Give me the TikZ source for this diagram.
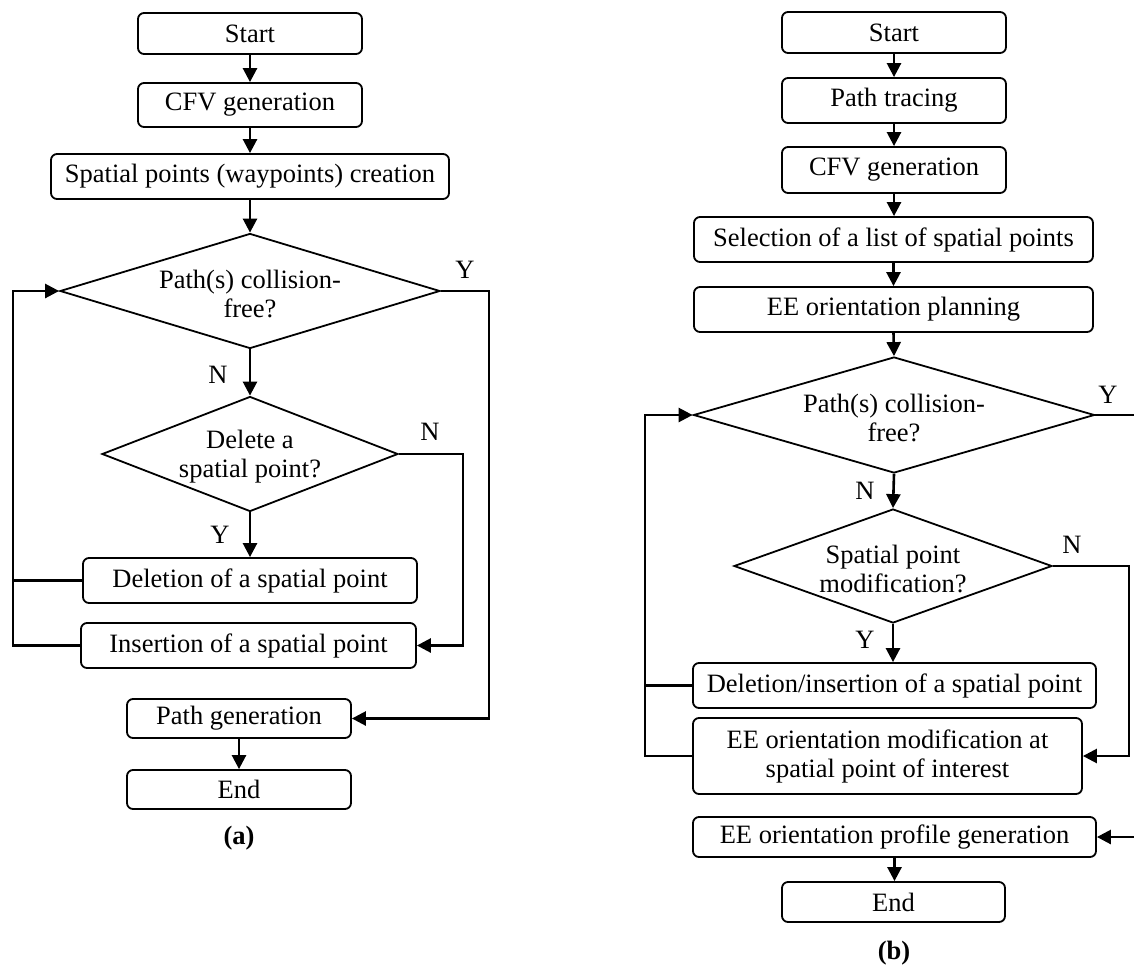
\documentclass[tikz,border=0pt]{standalone}
\usepackage{fontspec}
\setmainfont{Liberation Serif}
\usetikzlibrary{shapes.geometric,arrows.meta}
\begin{document}
\begin{tikzpicture}[x=1pt,y=-1pt,
 font=\fontsize{26.5}{29}\selectfont,
 box/.style={draw, rounded corners=6pt, line width=1.8pt, inner sep=0pt, align=center},
 dia/.style={draw, diamond, line width=1.8pt, inner sep=0pt},
 dtext/.style={inner sep=0pt, align=center},
 lbl/.style={inner sep=0pt},
 captext/.style={inner sep=0pt, font=\fontsize{26.5}{29}\selectfont\bfseries},
 conn/.style={line width=2.6pt},
 arr/.style={conn, -{Triangle[length=14pt,width=14pt]}},
]
\useasboundingbox (0,0) rectangle (1134,966);

% ---------------- (a) ----------------
\node[box, minimum width=224pt, minimum height=41pt] (as) at (250,33.5) {Start};
\node[box, minimum width=224pt, minimum height=44pt] (ac) at (250,105) {CFV generation};
\node[box, minimum width=398pt, minimum height=45pt] (ap) at (250,176.5) {Spatial points (waypoints) creation};
\node[dia, minimum width=380pt, minimum height=115pt] (ad1) at (250,291) {};
\node[dtext] (ad1t) at (250,294) {Path(s) collision-\\free?};
\node[dia, minimum width=296pt, minimum height=115pt] (ad2) at (250,454) {};
\node[dtext] (ad2t) at (250,457) {Delete a\\spatial point?};
\node[box, minimum width=334pt, minimum height=45pt] (adel) at (250,580.5) {Deletion of a spatial point};
\node[box, minimum width=335pt, minimum height=45pt] (ains) at (248.5,645.5) {Insertion of a spatial point};
\node[box, minimum width=224pt, minimum height=39pt] (apg) at (239,718.5) {Path generation};
\node[box, minimum width=224pt, minimum height=39pt] (aend) at (239,789.5) {End};
\node[captext] (capa) at (239,838) {(a)};

\node[lbl] (ay1) at (465,270) {Y};
\node[lbl] (an1) at (218,375) {N};
\node[lbl] (an2) at (430,432) {N};
\node[lbl] (ay2) at (220,535) {Y};

\coordinate (aL) at (13,291);
\coordinate (aY) at (489,291);
\coordinate (aN) at (463,454);

\draw[arr] (as.south) -- (as.south |- ac.north);
\draw[arr] (ac.south) -- (ac.south |- ap.north);
\draw[arr] (ap.south) -- (ad1.north);
\draw[arr] (ad1.south) -- (ad2.north);
\draw[arr] (ad2.south) -- (ad2.south |- adel.north);
\draw[arr] (ad1.east) -- (aY) |- (apg.east);
\draw[arr] (ad2.east) -- (aN) |- (ains.east);
\draw[arr] (ains.west) -| (aL) -- (ad1.west);
\draw[conn] (adel.west) -- (adel.west -| aL);
\draw[arr] (apg.south) -- (apg.south |- aend.north);

% ---------------- (b) ----------------
\node[box, minimum width=224pt, minimum height=41pt] (bs) at (894,32.5) {Start};
\node[box, minimum width=224pt, minimum height=45pt] (bt) at (894,100.5) {Path tracing};
\node[box, minimum width=224pt, minimum height=46pt] (bc) at (894,170) {CFV generation};
\node[box, minimum width=399pt, minimum height=45pt] (bsel) at (893.5,239.5) {Selection of a list of spatial points};
\node[box, minimum width=399pt, minimum height=45pt] (bee) at (893.5,309.5) {EE orientation planning};
\node[dia, minimum width=401pt, minimum height=116pt] (bd1) at (894,415) {};
\node[dtext] (bd1t) at (894,418) {Path(s) collision-\\free?};
\node[dia, minimum width=318pt, minimum height=114pt] (bd2) at (893,566) {};
\node[dtext] (bd2t) at (893,569) {Spatial point\\modification?};
\node[box, minimum width=403pt, minimum height=45pt] (bdi) at (894.5,685.5) {Deletion/insertion of a spatial point};
\node[box, minimum width=389pt, minimum height=76pt] (bmod) at (887.5,756) {EE orientation modification at\\spatial point of interest};
\node[box, minimum width=403pt, minimum height=40pt] (bprof) at (894.5,837) {EE orientation profile generation};
\node[box, minimum width=223pt, minimum height=40pt] (bend) at (893.5,902) {End};
\node[captext] (capb) at (894,953) {(b)};

\node[lbl] (by1) at (1108,395) {Y};
\node[lbl] (bn1) at (865,491) {N};
\node[lbl] (bn2) at (1072,545) {N};
\node[lbl] (by2) at (865,640) {Y};

\coordinate (bL) at (645,415);
\coordinate (bY) at (1138,415);
\coordinate (bN) at (1129,566);

\draw[arr] (bs.south) -- (bs.south |- bt.north);
\draw[arr] (bt.south) -- (bt.south |- bc.north);
\draw[arr] (bc.south) -- (bc.south |- bsel.north);
\draw[arr] (bsel.south) -- (bsel.south |- bee.north);
\draw[arr] (bee.south) -- (bd1.north);
\draw[arr] (bd1.south) -- (bd2.north);
\draw[arr] (bd2.south) -- (bd2.south |- bdi.north);
\draw[arr] (bd2.east) -- (bN) |- (bmod.east);
\draw[arr] (bd1.east) -- (bY) |- (bprof.east);
\draw[arr] (bmod.west) -| (bL) -- (bd1.west);
\draw[conn] (bdi.west) -- (bdi.west -| bL);
\draw[arr] (bprof.south) -- (bprof.south |- bend.north);
\end{tikzpicture}
\end{document}
